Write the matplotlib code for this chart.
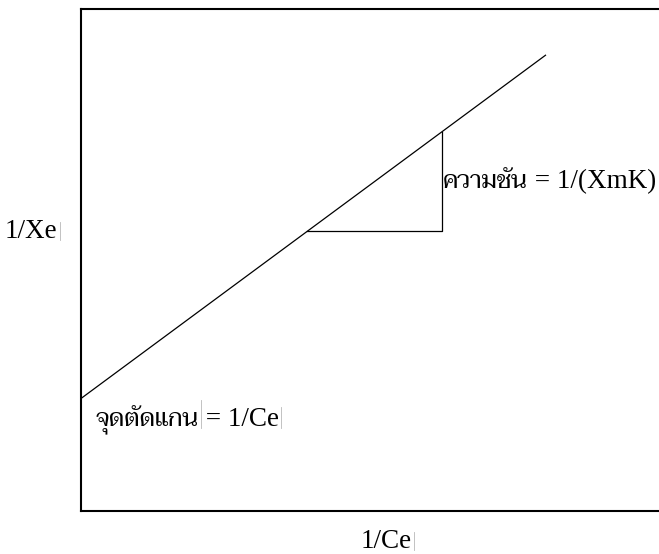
import matplotlib
matplotlib.use("Agg")
import matplotlib.pyplot as plt
from matplotlib import font_manager

# Linearised isotherm: 1/Xe against 1/Ce (arbitrary units)
intercept = 1.125          # 1/Xe at 1/Ce = 0
slope = 0.739              # rise per unit of 1/Ce
line_x = [0.0, 4.65]       # extent of the drawn line
step_x = [2.26, 3.61]      # run of the slope triangle

x_label = "1/Ce"
y_label = "1/Xe"
slope_label = ("ความชัน", " = 1/(XmK)")
intercept_label = ("จุดตัดแกน", " = 1/Ce")

# Latin in a Times-like serif, Thai from a looped serif face
available = {f.name for f in font_manager.fontManager.ttflist}
thai = "Loma"
for cand in ["Taviraj", "Trirong", "Pridi", "Maitree", "Sarabun"]:
    if cand in available:
        thai = cand
        break
plt.rcParams["font.family"] = ["Liberation Serif", "DejaVu Serif"]

W, H = 659, 554
fig = plt.figure(figsize=(W / 100, H / 100), dpi=100)
renderer = fig.canvas.get_renderer()

def fx(px):
    return px / W

def fy(py):
    return 1 - py / H

ax = fig.add_axes([fx(81), fy(511), fx(700) - fx(81), fy(9) - fy(511)])
ax.set_xlim(0, 6.19)
ax.set_ylim(0, 5.02)
ax.set_xticks([])
ax.set_yticks([])
for s in ax.spines.values():
    s.set_linewidth(1.5)
    s.set_color("black")

def f(x):
    return intercept + slope * x

ax.plot(line_x, [f(x) for x in line_x], color="black", lw=0.9, solid_capstyle="butt")
y0 = f(step_x[0])
y1 = f(step_x[1])
ax.plot([step_x[0], step_x[1], step_x[1]], [y0, y0, y1], color="black", lw=0.9)

fs_latin = 19.5
fs_thai = 17.5
caret = dict(color="#b8b8b8", lw=0.6)

def caret_after(text, top_px, bottom_px):
    """Thin text-box caret just right of a text run."""
    bb = text.get_window_extent(renderer)
    x = (bb.x1 + 2) / W
    fig.add_artist(plt.Line2D([x, x], [fy(bottom_px), fy(top_px)],
                              transform=fig.transFigure, **caret))

def mixed_label(px, py, parts):
    """Thai run followed by a Latin run, sharing one baseline."""
    t1 = fig.text(fx(px), fy(py), parts[0], fontsize=fs_thai,
                  family=[thai, "DejaVu Sans"], ha="left", va="baseline")
    bb = t1.get_window_extent(renderer)
    t2 = fig.text(bb.x1 / W, fy(py), parts[1],
                  fontsize=fs_latin, ha="left", va="baseline")
    return t1, t2

s1, s2 = mixed_label(443, 188, slope_label)
i1, i2 = mixed_label(96, 426, intercept_label)
caret_after(i1, 400, 428)
caret_after(i2, 407, 428)

ty = fig.text(fx(5), fy(238), y_label, fontsize=fs_latin, ha="left", va="baseline")
caret_after(ty, 222, 240)
tx = fig.text(fx(361), fy(548), x_label, fontsize=fs_latin, ha="left", va="baseline")
caret_after(tx, 532, 550)

fig.savefig("out.png", dpi=100)
